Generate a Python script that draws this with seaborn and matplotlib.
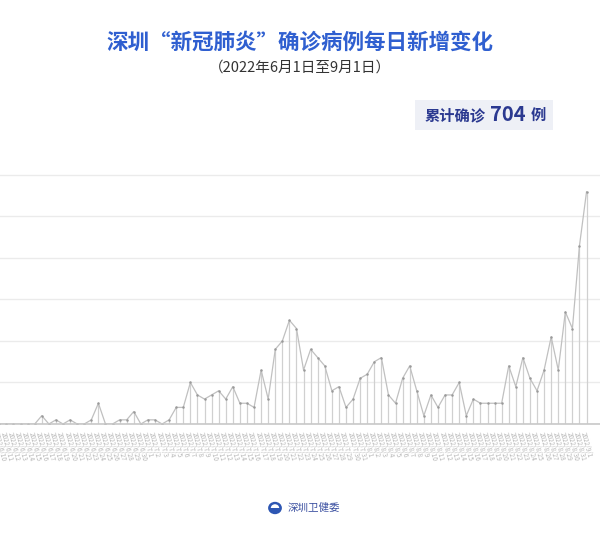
import matplotlib
matplotlib.use("Agg")
import matplotlib.pyplot as plt
from matplotlib.patches import FancyBboxPatch, Circle, Wedge
import seaborn as sns
import pandas as pd

# 每日新增确诊（2022/6/1 - 2022/9/1）
dates = pd.date_range("2022-06-01", "2022-09-01", freq="D")
date_labels = [f"{d.year}/{d.month}/{d.day}" for d in dates]
daily_new = [
    0, 0, 0, 0, 0, 0, 0, 0, 0, 0, 0, 0, 0, 0, 0,
    2, 0, 1, 0, 1, 0, 0, 1, 5, 0, 0, 1, 1, 3, 0, 1, 1, 0, 1,
    4, 4, 10, 7, 6, 7, 8, 6, 9, 5, 5, 4, 13, 6, 18, 20, 25, 23,
    13, 18, 16, 14, 8, 9, 4, 6, 11, 12, 15, 16, 7, 5, 11, 14, 8, 2, 7,
    4, 7, 7, 10, 2, 6, 5, 5, 5, 5, 14, 9, 16, 11, 8, 13, 21, 13, 27,
    23, 43, 56,
]
total_cases = 704
y_ticks = [0, 10, 20, 30, 40, 50, 60]

df = pd.DataFrame({"idx": range(len(daily_new)), "cases": daily_new})

sns.set_style("white")
plt.rcParams["font.family"] = ["Noto Sans CJK SC", "DejaVu Sans"]

fig = plt.figure(figsize=(6, 5.38), dpi=100)
ax = fig.add_axes([-0.119, 0.2119, 1.119, 0.4667])

# 垂直连线
ax.vlines(df["idx"], 0, df["cases"], color="#d0d0d0", lw=0.9, zorder=1)
sns.lineplot(data=df, x="idx", y="cases", ax=ax, color="#c0c0c0", lw=0.9,
             marker="o", markersize=1.8, markeredgewidth=0,
             markerfacecolor="#9a9a9a", zorder=2)

ax.set_xlim(-1, len(daily_new) + 0.9)
ax.set_ylim(0, 60.5)
ax.set_yticks(y_ticks)
ax.set_yticklabels([])
ax.yaxis.grid(True, color="#ebebeb", lw=1.0)
ax.set_axisbelow(True)
ax.set_xticks(df["idx"])
ax.set_xticklabels(date_labels, rotation=-75, fontsize=4.6, color="#b5b5b5",
                   ha="left", rotation_mode="anchor")
# 画布左侧之外的日期标签不可见，直接隐藏
for i, lbl in enumerate(ax.get_xticklabels()):
    if i < 9:
        lbl.set_visible(False)
ax.tick_params(axis="both", length=0, pad=5)
ax.set_xlabel("")
ax.set_ylabel("")
for side in ["top", "left", "right"]:
    ax.spines[side].set_visible(False)
ax.spines["bottom"].set_color("#c8c8c8")
ax.spines["bottom"].set_linewidth(1.2)

# 标题
fig.text(0.5, 0.922, "深圳“新冠肺炎”确诊病例每日新增变化", ha="center", va="center",
         fontsize=15.5, fontweight="bold", color="#2f5fd0")
fig.text(0.5, 0.874, "（2022年6月1日至9月1日）", ha="center", va="center",
         fontsize=10.5, color="#333333")

# 累计确诊框
box = FancyBboxPatch((0.692, 0.758), 0.230, 0.056, transform=fig.transFigure,
                     boxstyle="square,pad=0", facecolor="#eef0f6", edgecolor="none")
fig.patches.append(box)
fig.text(0.708, 0.786, "累计确诊", ha="left", va="center", fontsize=11,
         fontweight="bold", color="#2b3990")
fig.text(0.847, 0.788, str(total_cases), ha="center", va="center", fontsize=14.5,
         fontweight="bold", color="#2b3990")
fig.text(0.898, 0.786, "例", ha="center", va="center", fontsize=11,
         fontweight="bold", color="#2b3990")

# 底部标识
icon_x, icon_y = 275 / 600, 1 - 508 / 538
fig.patches.append(Circle((icon_x, icon_y), 0.0115, transform=fig.transFigure,
                          facecolor="#2d56b3", edgecolor="none"))
fig.patches.append(Wedge((icon_x, icon_y), 0.007, 0, 180, transform=fig.transFigure,
                         facecolor="white", edgecolor="none"))
fig.text(0.48, icon_y, "深圳卫健委", ha="left", va="center", fontsize=7.6,
         color="#3a4fa0")

fig.savefig("out.png", dpi=100, facecolor="white")
